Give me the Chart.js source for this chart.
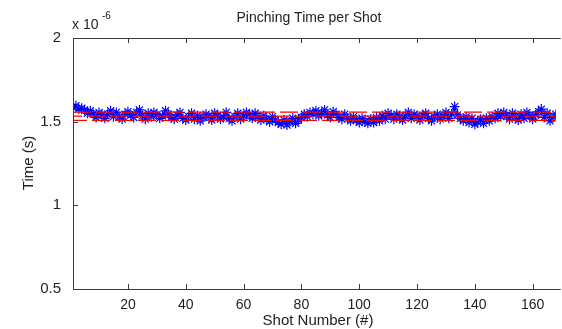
<!DOCTYPE html>
<html>
<head>
<meta charset="utf-8">
<script src="https://cdn.jsdelivr.net/npm/chart.js@4"></script>
<style>
  html, body { margin: 0; padding: 0; background: #fff; }
  #wrap { width: 562px; height: 329px; }
</style>
</head>
<body>
<div id="wrap"><canvas id="pinchChart" width="562" height="329"></canvas></div>
<script>
// pinch times in units of 1e-6 s, one per shot
const pinchTimes = [
  1.585, 1.595, 1.575, 1.58, 1.57,
  1.55, 1.565, 1.545, 1.525, 1.555, 1.54, 1.52, 1.545, 1.565, 1.53, 1.555, 1.53, 1.515, 1.545, 1.56,
  1.54, 1.525, 1.555, 1.57, 1.535, 1.515, 1.55, 1.53, 1.555, 1.54, 1.52, 1.535, 1.565, 1.545, 1.525, 1.515, 1.54, 1.555, 1.52, 1.51,
  1.53, 1.55, 1.515, 1.535, 1.505, 1.525, 1.545, 1.53, 1.51, 1.55, 1.535, 1.515, 1.53, 1.555, 1.52, 1.505, 1.53, 1.55, 1.515, 1.535,
  1.555, 1.54, 1.52, 1.55, 1.53, 1.51, 1.535, 1.515, 1.50, 1.53, 1.51, 1.495, 1.485, 1.51, 1.48, 1.50, 1.52, 1.49, 1.51, 1.525,
  1.545, 1.53, 1.555, 1.545, 1.565, 1.535, 1.55, 1.57, 1.54, 1.525, 1.56, 1.545, 1.525, 1.515, 1.545, 1.52, 1.505, 1.53, 1.51, 1.495,
  1.52, 1.50, 1.49, 1.515, 1.495, 1.525, 1.505, 1.535, 1.515, 1.55, 1.535, 1.515, 1.545, 1.53, 1.51, 1.535, 1.555, 1.52, 1.545, 1.53,
  1.51, 1.535, 1.55, 1.52, 1.505, 1.53, 1.545, 1.515, 1.535, 1.555, 1.52, 1.545, 1.59, 1.54, 1.52, 1.505, 1.53, 1.495, 1.52, 1.485,
  1.50, 1.515, 1.49, 1.52, 1.505, 1.53, 1.52, 1.55, 1.53, 1.555, 1.535, 1.515, 1.55, 1.53, 1.51, 1.545, 1.52, 1.555, 1.535, 1.515,
  1.54, 1.56, 1.575, 1.525, 1.55, 1.505, 1.525, 1.545
];
const shotNumbers = pinchTimes.map((v, i) => i + 1);

// mean and mean +/- std reference lines
const meanTime = 1.533;
const upperTime = 1.557;
const lowerTime = 1.508;

const xTicks = [20, 40, 60, 80, 100, 120, 140, 160];
const yTicks = [0.5, 1, 1.5, 2];
const yTickLabels = ['0.5', '1', '1.5', '2'];

const xMin = 1, xMax = 168;
const FONT = '"Liberation Sans", Arial, sans-serif';

function hline(y, offset) {
  return {
    data: [{ x: xMin, y: y }, { x: xMax, y: y }],
    borderColor: '#ff0000',
    borderWidth: 1.3,
    borderDash: [18, 5],
    borderDashOffset: offset,
    pointRadius: 0,
    fill: false,
    order: 0
  };
}

// box, inward ticks and text, drawn like a matlab axes
const axesDecor = {
  id: 'axesDecor',
  afterDraw(chart) {
    const ctx = chart.ctx;
    const a = chart.chartArea;
    const xs = chart.scales.x, ys = chart.scales.y;
    ctx.save();
    ctx.strokeStyle = '#3a3a3a';
    ctx.lineWidth = 1;
    ctx.beginPath();
    ctx.moveTo(a.right + 5, a.top + 0.5);
    ctx.lineTo(a.left + 0.5, a.top + 0.5);
    ctx.lineTo(a.left + 0.5, a.bottom + 0.5);
    ctx.lineTo(a.right + 5, a.bottom + 0.5);
    xTicks.forEach(v => {
      const px = Math.round(xs.getPixelForValue(v)) + 0.5;
      ctx.moveTo(px, a.bottom);
      ctx.lineTo(px, a.bottom - 5);
      ctx.moveTo(px, a.top);
      ctx.lineTo(px, a.top + 5);
    });
    yTicks.forEach(v => {
      const py = Math.round(ys.getPixelForValue(v)) + 0.5;
      ctx.moveTo(a.left, py);
      ctx.lineTo(a.left + 5, py);
    });
    ctx.stroke();

    ctx.fillStyle = '#222';
    ctx.textAlign = 'center';
    ctx.textBaseline = 'middle';
    ctx.font = '14px ' + FONT;
    ctx.fillText('Pinching Time per Shot', 309, 18);
    ctx.font = '15px ' + FONT;
    ctx.fillText('Shot Number (#)', 318, 321);

    ctx.save();
    ctx.translate(29, 163);
    ctx.rotate(-Math.PI / 2);
    ctx.fillText('Time (s)', 0, 0);
    ctx.restore();

    ctx.textAlign = 'left';
    ctx.textBaseline = 'alphabetic';
    ctx.font = '14px ' + FONT;
    ctx.fillText('x 10', 72, 29);
    ctx.font = '10px ' + FONT;
    ctx.fillText('-6', 102, 19);
    ctx.restore();
  }
};

new Chart(document.getElementById('pinchChart').getContext('2d'), {
  type: 'line',
  data: {
    datasets: [
      hline(upperTime, 0),
      hline(meanTime, 9),
      hline(lowerTime, 4),
      {
        data: shotNumbers.map((x, i) => ({ x: x, y: pinchTimes[i] })),
        borderColor: '#0000ff',
        backgroundColor: '#0000ff',
        borderWidth: 1.2,
        pointStyle: 'star',
        pointRadius: 5,
        pointBorderWidth: 1.2,
        pointBorderColor: '#0000ff',
        fill: false,
        tension: 0,
        order: 1
      }
    ]
  },
  options: {
    responsive: false,
    animation: false,
    layout: { padding: { top: 38, right: 0, left: 0, bottom: 0 } },
    plugins: { legend: { display: false }, title: { display: false }, tooltip: { enabled: false } },
    scales: {
      x: {
        type: 'linear',
        min: xMin,
        max: xMax,
        afterBuildTicks: s => { s.ticks = xTicks.map(v => ({ value: v })); },
        afterFit: s => { s.height = 40; },
        grid: { display: false },
        border: { display: false },
        ticks: { color: '#222', font: { family: FONT, size: 14 }, padding: 0, maxRotation: 0 }
      },
      y: {
        type: 'linear',
        min: 0.5,
        max: 2,
        afterBuildTicks: s => { s.ticks = yTicks.map(v => ({ value: v })); },
        afterFit: s => { s.width = 73; },
        grid: { display: false },
        border: { display: false },
        ticks: {
          color: '#222',
          font: { family: FONT, size: 15 },
          padding: 4,
          callback: (v) => yTickLabels[yTicks.indexOf(v)]
        }
      }
    }
  },
  plugins: [axesDecor]
});
</script>
</body>
</html>
